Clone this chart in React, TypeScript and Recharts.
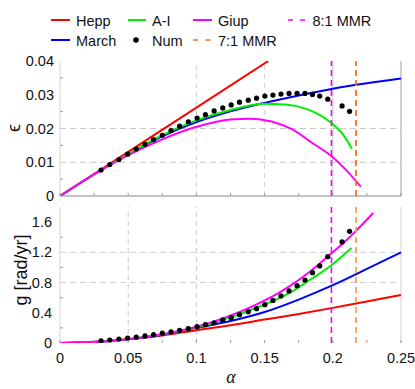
import React from 'react';
import { ComposedChart, Line, XAxis, YAxis, ReferenceLine } from 'recharts';

// numerical (Num) points, shared alpha for both panels
const numAlpha = [0.0301, 0.0365, 0.0432, 0.0496, 0.0559, 0.0623, 0.0686, 0.075, 0.0814, 0.0877, 0.0941, 0.1005, 0.1066, 0.113, 0.1193, 0.1255, 0.1316, 0.138, 0.1441, 0.1502, 0.1561, 0.162, 0.1679, 0.1738, 0.1796, 0.1851, 0.1904, 0.1963, 0.2068, 0.2123];
const numEps = [0.0077, 0.0093, 0.0108, 0.0124, 0.0139, 0.0153, 0.0167, 0.018, 0.0194, 0.0207, 0.022, 0.0231, 0.0241, 0.0252, 0.0261, 0.027, 0.0278, 0.0284, 0.029, 0.0296, 0.0299, 0.0302, 0.0304, 0.0304, 0.0304, 0.0301, 0.0296, 0.0287, 0.0267, 0.0251];
const numG = [0.03, 0.04, 0.053, 0.066, 0.079, 0.093, 0.11, 0.13, 0.148, 0.168, 0.19, 0.216, 0.242, 0.268, 0.305, 0.335, 0.375, 0.415, 0.454, 0.507, 0.564, 0.623, 0.689, 0.759, 0.834, 0.931, 1.02, 1.143, 1.338, 1.478];

// common alpha grid
const gridAlpha = [0, 0.025, 0.05, 0.075, 0.1, 0.125, 0.15, 0.175, 0.2, 0.225, 0.25];

// eccentricity panel
const heppEpsAlpha = [0, 0.05, 0.1, 0.1527];
const heppEps = [0, 0.0131, 0.0262, 0.04];
const marchEps = [0, 0.0064, 0.0124, 0.0177, 0.0219, 0.0251, 0.0276, 0.0298, 0.0318, 0.0334, 0.0348];
const aiEpsAlpha = [0, 0.025, 0.05, 0.075, 0.1, 0.125, 0.15, 0.165, 0.18, 0.19, 0.2, 0.207, 0.214];
const aiEps = [0, 0.0064, 0.0125, 0.018, 0.0224, 0.0255, 0.0273, 0.0271, 0.0259, 0.0241, 0.0213, 0.0185, 0.014];
const giupEpsAlpha = [0, 0.025, 0.05, 0.075, 0.1, 0.125, 0.14, 0.155, 0.17, 0.185, 0.2, 0.21, 0.2205];
const giupEps = [0, 0.0064, 0.0121, 0.0168, 0.0205, 0.0227, 0.0229, 0.0221, 0.0198, 0.0157, 0.0115, 0.0076, 0.0028];

// precession panel
const heppG = [0, 0.016, 0.05, 0.1, 0.17, 0.235, 0.31, 0.385, 0.465, 0.55, 0.635];
const marchG = [0, 0.012, 0.048, 0.11, 0.2, 0.29, 0.41, 0.575, 0.765, 0.98, 1.2];
const aiGAlpha = [0, 0.025, 0.05, 0.075, 0.1, 0.12, 0.143, 0.169, 0.1836, 0.198, 0.2137];
const aiG = [0, 0.012, 0.05, 0.112, 0.205, 0.31, 0.46, 0.67, 0.84, 1.015, 1.257];
const giupGAlpha = [0, 0.025, 0.05, 0.075, 0.1, 0.12, 0.143, 0.169, 0.1836, 0.198, 0.2129, 0.2296];
const giupG = [0, 0.012, 0.05, 0.115, 0.215, 0.33, 0.5, 0.76, 0.95, 1.17, 1.41, 1.72];

const mmr81 = 0.199;
const mmr71 = 0.217;

const alphaTicks = [0, 0.05, 0.1, 0.15, 0.2, 0.25];
const alphaMinor = [0.025, 0.075, 0.125, 0.175, 0.225];
const epsTicks = [0, 0.01, 0.02, 0.03, 0.04];
const epsMinor = [0.005, 0.015, 0.025, 0.035];
const gTicks = [0, 0.4, 0.8, 1.2, 1.6];
const gMinor = [0.2, 0.6, 1.0, 1.4];

const pts = (xs: number[], ys: number[]) => xs.map((a, i) => ({ a, v: ys[i] }));

const FONT = '"Liberation Sans", Arial, sans-serif';
const isMajor = (v: number, majors: number[]) => majors.some((m) => Math.abs(m - v) < 1e-9);

const YTick = (props: any) => {
  const { x, y, payload, majors, gap } = props;
  if (isMajor(payload.value, majors)) {
    return (
      <text x={x - gap} y={y} dy="0.355em" textAnchor="end" fontSize={14.5} fontFamily={FONT} fill="#111">
        {String(payload.value)}
      </text>
    );
  }
  return <line x1={x} x2={x + 3} y1={y} y2={y} stroke="#999" />;
};

const XTick = (props: any) => {
  const { x, y, payload, labels } = props;
  const major = isMajor(payload.value, alphaTicks);
  return (
    <g>
      <line x1={x} x2={x} y1={y} y2={y - 3} stroke="#999" />
      {labels && major && (
        <text x={x} y={y + 10} dy="0.71em" textAnchor="middle" fontSize={14.5} fontFamily={FONT} fill="#111">
          {String(payload.value)}
        </text>
      )}
    </g>
  );
};

const curve = (data: any[], color: string, smooth = true) => (
  <Line
    data={data}
    dataKey="v"
    type={smooth ? 'monotone' : 'linear'}
    stroke={color}
    strokeWidth={2}
    dot={false}
    isAnimationActive={false}
  />
);

const dots = (data: any[]) => (
  <Line
    data={data}
    dataKey="v"
    stroke="none"
    dot={{ r: 2.6, fill: '#000', stroke: 'none' }}
    isAnimationActive={false}
  />
);

const App = () => {
  return (
    <div style={{ position: 'absolute', left: 0, top: 0, width: 415, height: 389, background: '#fff' }}>
      <div style={{ position: 'absolute', left: 0, top: 0 }}>
        <ComposedChart width={415} height={210} margin={{ top: 61, right: 14, bottom: 0, left: 0 }}>
          <XAxis
            dataKey="a"
            type="number"
            domain={[0, 0.25]}
            ticks={[...alphaTicks, ...alphaMinor]}
            interval={0}
            height={14}
            tickSize={0}
            tickMargin={0}
            tickLine={false}
            axisLine={{ stroke: '#888' }}
            tick={<XTick labels={false} />}
          />
          <YAxis
            type="number"
            domain={[0, 0.04]}
            allowDataOverflow
            ticks={[...epsTicks, ...epsMinor]}
            interval={0}
            width={60}
            tickSize={0}
            tickMargin={0}
            tickLine={false}
            axisLine={{ stroke: '#d4d4d4' }}
            tick={<YTick majors={epsTicks} gap={6} />}
          />
          <ReferenceLine y={0.01} stroke="#c8c8c8" strokeDasharray="6 4" />
          <ReferenceLine y={0.02} stroke="#c8c8c8" strokeDasharray="6 4" />
          <ReferenceLine x={0.1} stroke="#d0d0d0" strokeDasharray="5 4" />
          <ReferenceLine x={0.15} stroke="#d0d0d0" strokeDasharray="5 4" />
          <ReferenceLine x={0.2} stroke="#c8c8c8" />
          <ReferenceLine x={0.25} stroke="#a0a0a0" />
          {curve(pts(heppEpsAlpha, heppEps), '#ff0000', false)}
          {curve(pts(gridAlpha, marchEps), '#0000ff')}
          {curve(pts(aiEpsAlpha, aiEps), '#00ee00')}
          {curve(pts(giupEpsAlpha, giupEps), '#ff00ff')}
          {dots(pts(numAlpha, numEps))}
          <ReferenceLine x={mmr81} stroke="#ff00ff" strokeWidth={1.6} strokeDasharray="6 4" />
          <ReferenceLine x={mmr71} stroke="#ff7010" strokeWidth={1.8} strokeDasharray="6 4" />
        </ComposedChart>
      </div>
      <div style={{ position: 'absolute', left: 0, top: 200 }}>
        <ComposedChart width={415} height={189} margin={{ top: 7, right: 14, bottom: 16, left: 0 }}>
          <XAxis
            dataKey="a"
            type="number"
            domain={[0, 0.25]}
            ticks={[...alphaTicks, ...alphaMinor]}
            interval={0}
            height={30}
            tickSize={0}
            tickMargin={0}
            tickLine={false}
            axisLine={false}
            tick={<XTick labels />}
          />
          <YAxis
            type="number"
            domain={[0, 1.8]}
            allowDataOverflow
            ticks={[...gTicks, ...gMinor]}
            interval={0}
            width={60}
            tickSize={0}
            tickMargin={0}
            tickLine={false}
            axisLine={{ stroke: '#d4d4d4' }}
            tick={<YTick majors={gTicks} gap={8} />}
          />
          <ReferenceLine y={0.8} stroke="#d0d0d0" strokeDasharray="6 4" />
          <ReferenceLine y={1.2} stroke="#d0d0d0" strokeDasharray="6 4" />
          <ReferenceLine x={0.05} stroke="#c8c8c8" strokeDasharray="5 4" />
          <ReferenceLine x={0.1} stroke="#c8c8c8" strokeDasharray="5 4" />
          <ReferenceLine x={0.25} stroke="#d0d0d0" />
          {curve(pts(gridAlpha, heppG), '#ff0000')}
          {curve(pts(gridAlpha, marchG), '#0000ff')}
          {curve(pts(aiGAlpha, aiG), '#00ee00')}
          {curve(pts(giupGAlpha, giupG), '#ff00ff')}
          {dots(pts(numAlpha, numG))}
          <ReferenceLine x={mmr81} stroke="#ff00ff" strokeWidth={1.6} strokeDasharray="6 4" />
          <ReferenceLine x={mmr71} stroke="#f8a25c" strokeWidth={1.8} strokeDasharray="6 4" />
        </ComposedChart>
      </div>
      <svg width={415} height={389} style={{ position: 'absolute', left: 0, top: 0, pointerEvents: 'none' }}>
        <g fontFamily={FONT} fontSize={14.5} fill="#111">
          <line x1={51} x2={70} y1={20} y2={20} stroke="#ff0000" strokeWidth={2} />
          <text x={76} y={25.5}>Hepp</text>
          <line x1={128} x2={146} y1={20} y2={20} stroke="#00ee00" strokeWidth={2} />
          <text x={152} y={25.5}>A-I</text>
          <line x1={193} x2={212} y1={20} y2={20} stroke="#ff00ff" strokeWidth={2} />
          <text x={218} y={25.5}>Giup</text>
          <line x1={288} x2={306} y1={20} y2={20} stroke="#ff00ff" strokeWidth={1.5} strokeDasharray="5 7" />
          <text x={312.5} y={25.5}>8:1 MMR</text>
          <line x1={51} x2={70} y1={40} y2={40} stroke="#0000ff" strokeWidth={2} />
          <text x={76} y={45.5}>March</text>
          <circle cx={136} cy={40} r={2.8} fill="#000" />
          <text x={152} y={45.5}>Num</text>
          <line x1={193} x2={212} y1={40} y2={40} stroke="#ff7010" strokeWidth={1.5} strokeDasharray="5 7.5" />
          <text x={218} y={45.5}>7:1 MMR</text>
        </g>
        <text x={14} y={128} transform="rotate(-90 14 128)" textAnchor="middle" dy="0.355em" fontSize={18} fontFamily={FONT} fill="#111">
          ϵ
        </text>
        <text x={21} y={270} transform="rotate(-90 21 270)" textAnchor="middle" dy="0.355em" fontSize={18} fontFamily={FONT} fill="#111">
          g [rad/yr]
        </text>
        <text x={231} y={383} textAnchor="middle" fontSize={18} fontStyle="italic" fontFamily='"Liberation Serif", serif' fill="#111">
          α
        </text>
      </svg>
    </div>
  );
};

export default App;
